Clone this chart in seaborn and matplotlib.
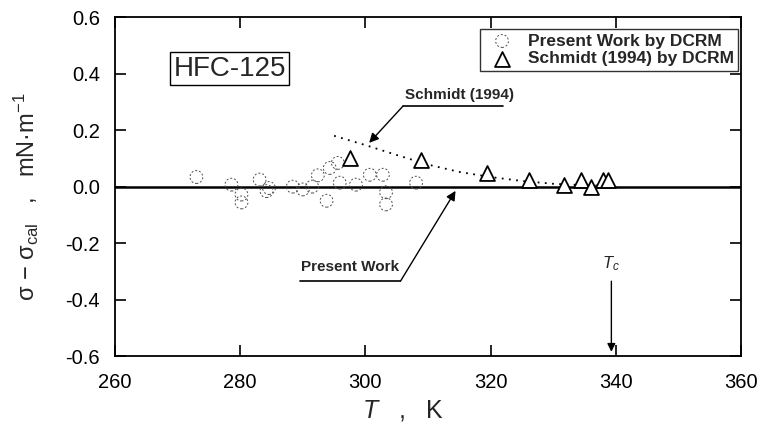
import numpy as np
import pandas as pd
import seaborn as sns
import matplotlib.pyplot as plt

# Present Work by DCRM: deviations from the present correlation
present_T = [273.0, 278.6, 280.2, 280.2, 283.1, 284.2, 284.6, 288.4, 290.0, 291.5,
             292.4, 293.8, 294.3, 295.6, 295.9, 298.5, 300.7, 302.8, 303.3, 303.3,
             308.1]
present_dev = [0.034, 0.007, -0.028, -0.056, 0.025, -0.016, -0.005, 0.0, -0.01, 0.0,
               0.04, -0.05, 0.066, 0.084, 0.014, 0.007, 0.042, 0.042, -0.02, -0.063,
               0.014]

# Schmidt (1994) by DCRM
schmidt_T = [297.5, 308.9, 319.5, 326.2, 331.8, 334.4, 336.0, 337.9, 338.7]
schmidt_dev = [0.10, 0.095, 0.049, 0.024, 0.007, 0.024, 0.0, 0.024, 0.024]

# Schmidt (1994) correlation relative to the present one
corr_T = [295.0, 300.0, 305.0, 310.0, 315.0, 320.0, 325.0, 330.0, 335.0, 338.0]
corr_dev = [0.18, 0.147, 0.112, 0.078, 0.052, 0.034, 0.020, 0.010, 0.005, 0.003]

Tc = 339.3

sns.set_theme(style="ticks")
plt.rcParams['font.family'] = ['Liberation Sans', 'DejaVu Sans']
plt.rcParams['mathtext.fontset'] = 'custom'
plt.rcParams['mathtext.rm'] = 'Liberation Sans'
plt.rcParams['mathtext.it'] = 'Liberation Sans:italic'

fig = plt.figure(figsize=(7.67, 4.30), dpi=100)
ax = fig.add_axes([0.150, 0.172, 0.816, 0.788])

ax.axhline(0, color='black', lw=1.8, zorder=2)
sns.lineplot(x=corr_T, y=corr_dev, ax=ax, color='black', lw=1.3,
             linestyle=(0, (1, 3)), zorder=2)
pw = ax.scatter(present_T, present_dev, s=85, facecolors='none',
                edgecolors='0.3', linewidths=0.7, linestyle=(0, (2, 2)),
                zorder=3, label='Present Work by DCRM')
sc = ax.scatter(schmidt_T, schmidt_dev, s=115, marker='^', facecolors='white',
                edgecolors='black', linewidths=1.3, zorder=4,
                label='Schmidt (1994) by DCRM')

ax.set_xlim(260, 360)
ax.set_ylim(-0.6, 0.6)
ax.set_xticks(np.arange(260, 361, 20))
ax.set_yticks(np.arange(-0.6, 0.61, 0.2))
ax.set_yticklabels(['%.1f' % v for v in np.arange(-0.6, 0.61, 0.2)])
ax.tick_params(direction='in', top=True, right=True, length=8, width=1.2,
               labelsize=14.5, colors='black')
ax.tick_params(axis='x', pad=12)
ax.tick_params(axis='y', pad=11)
for s in ax.spines.values():
    s.set_linewidth(1.3)
    s.set_color('black')

ax.set_xlabel('$T$   ,   K', fontsize=18, va='top')
ax.xaxis.set_label_coords(0.46, -0.125)
ax.set_ylabel('σ − σ$_{\\rm cal}$   ,   mN·m$^{-1}$', fontsize=17)
ax.yaxis.set_label_coords(-0.118, 0.47)

leg = ax.legend(handles=[pw, sc], loc='upper right', fontsize=12.5,
                frameon=True, fancybox=False, edgecolor='black',
                borderpad=0.25, handletextpad=0.5, labelspacing=0.15,
                borderaxespad=0.0, bbox_to_anchor=(0.996, 0.965))
leg.get_frame().set_linewidth(1.0)
for t in leg.get_texts():
    t.set_fontweight('bold')

ax.text(269.3, 0.418, 'HFC-125', fontsize=20, va='center', ha='left',
        bbox=dict(boxstyle='square,pad=0.12', fc='white', ec='black', lw=1.0))

# Schmidt label with underline and arrow
ax.text(306.3, 0.30, 'Schmidt (1994)', fontsize=11, fontweight='bold',
        ha='left', va='bottom')
ax.plot([306.0, 322.0], [0.285, 0.285], color='black', lw=1.2)
ax.annotate('', xy=(300.6, 0.155), xytext=(306.0, 0.285),
            arrowprops=dict(arrowstyle='-|>', color='black', lw=1.0,
                            mutation_scale=14, shrinkA=0, shrinkB=0))

# Present Work label
ax.text(289.7, -0.31, 'Present Work', fontsize=11, fontweight='bold',
        ha='left', va='bottom')
ax.plot([289.5, 305.6], [-0.335, -0.335], color='black', lw=1.2)
ax.annotate('', xy=(314.4, -0.015), xytext=(305.6, -0.335),
            arrowprops=dict(arrowstyle='-|>', color='black', lw=1.0,
                            mutation_scale=14, shrinkA=0, shrinkB=0))

# critical temperature
ax.text(Tc, -0.305, '$T_c$', fontsize=12, ha='center', va='bottom')
ax.annotate('', xy=(Tc, -0.585), xytext=(Tc, -0.335),
            arrowprops=dict(arrowstyle='-|>', color='black', lw=1.0,
                            mutation_scale=12, shrinkA=0, shrinkB=0))

fig.savefig('out.png', dpi=100)
